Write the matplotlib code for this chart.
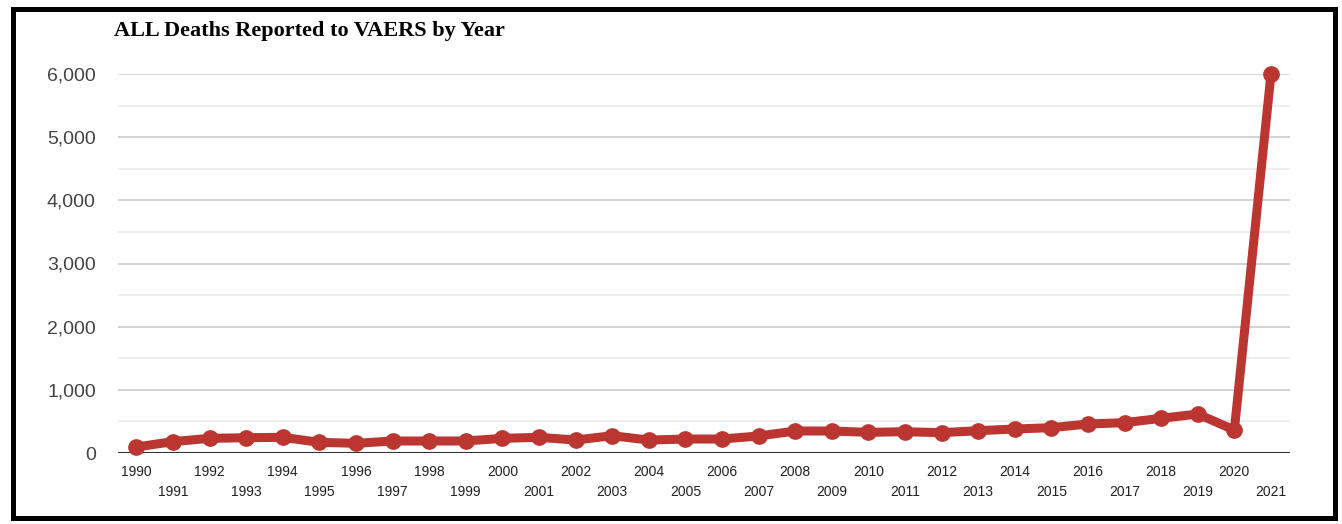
from matplotlib import pyplot as plt
from matplotlib.patches import Rectangle

years = list(range(1990, 2022))
deaths = [95, 180, 232, 242, 248, 169, 153, 190, 190, 190, 232, 248, 205, 274,
          205, 221, 221, 269, 348, 348, 327, 337, 322, 353, 380, 401, 459, 480,
          549, 617, 364, 6000]
y_ticks = [0, 1000, 2000, 3000, 4000, 5000, 6000]
y_labels = ["0", "1,000", "2,000", "3,000", "4,000", "5,000", "6,000"]

W, H = 1342, 524
fig = plt.figure(figsize=(W / 100, H / 100), dpi=100)
ax = fig.add_axes([118 / W, 1 - 453 / H, (1290 - 118) / W, (453 - 74) / H])

# gridlines
for v in range(500, 6001, 500):
    ax.axhline(v, color="#cccccc" if v % 1000 == 0 else "#ebebeb", lw=1.2, zorder=1)
ax.axhline(0, color="#333333", lw=1.5, zorder=2)

ax.plot(years, deaths, color="#bb3630", lw=6.5, marker="o", markersize=11,
        solid_joinstyle="round", clip_on=False, zorder=3)

ax.set_xlim(1989.5, 2021.52)
ax.set_ylim(0, 6000)
ax.set_yticks(y_ticks, y_labels)
even = [y for y in years if y % 2 == 0]
odd = [y for y in years if y % 2 == 1]
ax.set_xticks(even, [str(y) for y in even])
ax.set_xticks(odd, [str(y) for y in odd], minor=True)
ax.tick_params(axis="x", which="major", length=0, pad=9, labelsize=10, labelcolor="#222222")
ax.tick_params(axis="x", which="minor", length=0, pad=23, labelsize=10, labelcolor="#222222")
ax.tick_params(axis="y", length=0, pad=16, labelsize=14, labelcolor="#444444")
for lab in ax.get_xticklabels(which="both"):
    lab.set_family(["Liberation Sans Narrow", "Liberation Sans"])
for lab in ax.get_yticklabels():
    lab.set_family("Liberation Sans")
for s in ax.spines.values():
    s.set_visible(False)

fig.text(114 / W, 1 - 31 / H, "ALL Deaths Reported to VAERS by Year", fontsize=16,
         fontweight="bold", family="Liberation Serif", va="center", ha="left")

fig.patches.append(Rectangle((12.5 / W, 1 - 517.5 / H), (1334.5 - 12.5) / W, (517.5 - 8.5) / H,
                             transform=fig.transFigure, fill=False, ec="black", lw=3.6))

fig.savefig("out.png", dpi=100)
